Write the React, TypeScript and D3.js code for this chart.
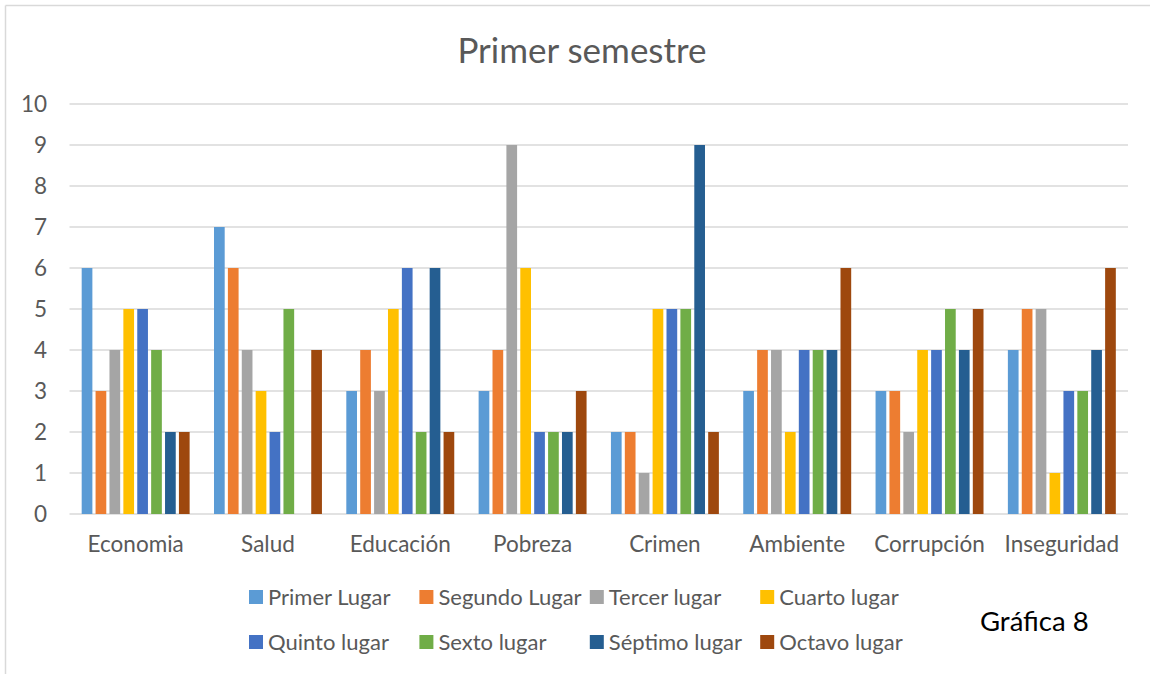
import React from "react";
import * as d3 from "d3";

const categories = ["Economia", "Salud", "Educación", "Pobreza", "Crimen", "Ambiente", "Corrupción", "Inseguridad"];
const seriesNames = ["Primer Lugar", "Segundo Lugar", "Tercer lugar", "Cuarto lugar", "Quinto lugar", "Sexto lugar", "Séptimo lugar", "Octavo lugar"];
const seriesColors = ["#5B9BD5", "#ED7D31", "#A5A5A5", "#FFC000", "#4472C4", "#70AD47", "#255E91", "#9E480E"];
const primerLugar = [6, 7, 3, 3, 2, 3, 3, 4];
const segundoLugar = [3, 6, 4, 4, 2, 4, 3, 5];
const tercerLugar = [4, 4, 3, 9, 1, 4, 2, 5];
const cuartoLugar = [5, 3, 5, 6, 5, 2, 4, 1];
const quintoLugar = [5, 2, 6, 2, 5, 4, 4, 3];
const sextoLugar = [4, 5, 2, 2, 5, 4, 5, 3];
const septimoLugar = [2, 0, 6, 2, 9, 4, 4, 4];
const octavoLugar = [2, 4, 2, 3, 2, 6, 5, 6];
const yTicks = [0, 1, 2, 3, 4, 5, 6, 7, 8, 9, 10];

const seriesValues = [primerLugar, segundoLugar, tercerLugar, cuartoLugar, quintoLugar, sextoLugar, septimoLugar, octavoLugar];

const W = 1150;
const H = 674;
const FONT = "Lato, 'Open Sans', sans-serif";
const GRAY = "#595959";
const GRID = "#D9D9D9";

export default function App() {
  const plotLeft = 69.5;
  const plotRight = 1128;
  const plotTop = 104;
  const plotBottom = 514;

  const x0 = d3.scaleBand<string>().domain(categories).range([plotLeft, plotRight]).paddingInner(0.16).paddingOuter(0.08);
  const x1 = d3.scaleBand<string>().domain(seriesNames).range([0, x0.bandwidth()]).paddingInner(0.23).paddingOuter(0.115);
  const y = d3.scaleLinear().domain([0, 10]).range([plotBottom, plotTop]);

  const legendX0 = 249;
  const legendStep = 170.4;
  const legendRows = [597, 642];

  return (
    <svg width={W} height={H} style={{ position: "absolute", left: 0, top: 0, background: "#fff" }} fontFamily={FONT}>
      <rect x={0} y={0} width={W} height={H} fill="#fff" />
      <line x1={5.5} y1={5.5} x2={W} y2={5.5} stroke={GRID} strokeWidth={1.5} />
      <line x1={5.5} y1={5.5} x2={5.5} y2={H} stroke={GRID} strokeWidth={1.5} />
      <text x={582} y={63} textAnchor="middle" fontSize={35} fill={GRAY}>Primer semestre</text>

      {yTicks.map((t) => (
        <g key={t}>
          <line x1={plotLeft} x2={plotRight} y1={y(t)} y2={y(t)} stroke={GRID} strokeWidth={1.4} />
          <text x={47} y={y(t) + 8} textAnchor="end" fontSize={22.5} fill={GRAY}>{t}</text>
        </g>
      ))}

      {categories.map((c, ci) => (
        <g key={c} transform={`translate(${x0(c)},0)`}>
          {seriesNames.map((s, si) => {
            const v = seriesValues[si][ci];
            if (!v) return null;
            return (
              <rect key={s} x={x1(s)} y={y(v)} width={x1.bandwidth()} height={y(0) - y(v)} fill={seriesColors[si]} />
            );
          })}
          <text x={x0.bandwidth() / 2} y={552} textAnchor="middle" fontSize={22.5} fill={GRAY}>{c}</text>
        </g>
      ))}

      {seriesNames.map((s, si) => {
        const row = Math.floor(si / 4);
        const col = si % 4;
        const lx = legendX0 + col * legendStep;
        const ly = legendRows[row];
        return (
          <g key={s}>
            <rect x={lx} y={ly - 7} width={14} height={14} fill={seriesColors[si]} />
            <text x={lx + 19} y={ly + 8} fontSize={22} fill={GRAY}>{s}</text>
          </g>
        );
      })}

      <text x={980} y={631} fontSize={27.5} fill="#000">Gráfica 8</text>
    </svg>
  );
}
